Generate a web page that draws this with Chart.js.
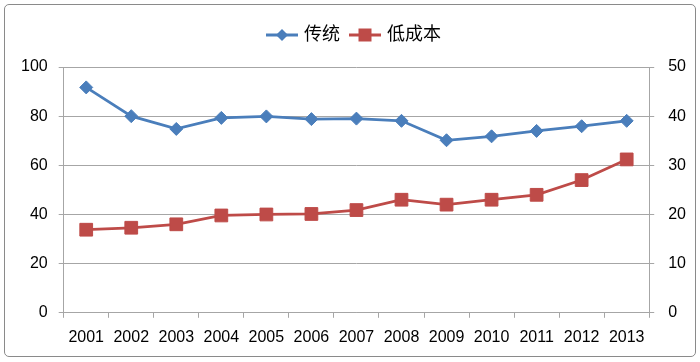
<!DOCTYPE html>
<html>
<head>
<meta charset="utf-8">
<script src="https://cdn.jsdelivr.net/npm/chart.js@4/dist/chart.umd.min.js"></script>
<style>
    html, body { margin: 0; padding: 0; background: #fff; }
    #wrap { position: relative; width: 700px; height: 362px; }
    #frame { position: absolute; left: 4px; top: 4px; width: 690px; height: 351px; border: 1.5px solid #8a8a8a; border-radius: 5px; pointer-events: none; }
    canvas { position: absolute; left: 0; top: 0; }
</style>
</head>
<body>
<div id="wrap">
    <canvas id="chart" width="700" height="362"></canvas>
    <div id="frame"></div>
</div>
<script>
// Data
const years = ['2001', '2002', '2003', '2004', '2005', '2006', '2007', '2008', '2009', '2010', '2011', '2012', '2013'];
const traditional = [91.7, 80, 74.8, 79.3, 79.9, 78.8, 79, 78.1, 70.2, 71.8, 74, 75.9, 78.1];   // left axis
const lowCost = [16.9, 17.3, 18, 19.8, 20, 20.1, 20.9, 23, 22, 23, 24, 27, 31.2];            // right axis
const leftTicks = [0, 20, 40, 60, 80, 100];
const rightTicks = [0, 10, 20, 30, 40, 50];

const BLUE = '#4a7ebb';
const RED = '#be4b48';
const GRID = '#a6a6a6';
const FONT = "'Liberation Sans', 'Noto Sans CJK SC', sans-serif";

// legend swatch: short line with the marker on it, like Excel
function legendSwatch(color, shape) {
    const c = document.createElement('canvas');
    c.width = 32; c.height = 16;
    const g = c.getContext('2d');
    g.strokeStyle = color;
    g.lineWidth = 3;
    g.beginPath(); g.moveTo(0, 8); g.lineTo(32, 8); g.stroke();
    g.fillStyle = color;
    g.beginPath();
    if (shape === 'diamond') {
        g.moveTo(16, 2); g.lineTo(22, 8); g.lineTo(16, 14); g.lineTo(10, 8);
    } else {
        g.rect(9.5, 1.5, 13, 13);
    }
    g.closePath(); g.fill();
    return c;
}
const swatches = [legendSwatch(BLUE, 'diamond'), legendSwatch(RED, 'square')];

// extra room between legend and plot
const legendGap = {
    id: 'legendGap',
    beforeInit(chart) {
        const fit = chart.legend.fit;
        chart.legend.fit = function () {
            fit.call(this);
            this.height += 13;
        };
    }
};

new Chart(document.getElementById('chart'), {
    type: 'line',
    data: {
        labels: years,
        datasets: [
            { label: '传统', data: traditional, yAxisID: 'y', borderColor: BLUE, backgroundColor: BLUE,
              borderWidth: 2.75, pointStyle: 'rectRot', pointRadius: 6.5, pointBorderWidth: 1, tension: 0 },
            { label: '低成本', data: lowCost, yAxisID: 'y1', borderColor: RED, backgroundColor: RED,
              borderWidth: 2.75, pointStyle: 'rect', pointRadius: 9, pointBorderWidth: 1, tension: 0 }
        ]
    },
    options: {
        responsive: false,
        animation: false,
        layout: { autoPadding: false, padding: { left: 10, right: 0, top: 14, bottom: 5 } },
        plugins: {
            tooltip: { enabled: false },
            legend: {
                position: 'top',
                labels: {
                    usePointStyle: true,
                    pointStyleWidth: 26,
                    font: { family: FONT, size: 18 },
                    color: '#000',
                    padding: 12,
                    generateLabels: (chart) => chart.data.datasets.map((ds, i) => ({
                        text: ds.label, pointStyle: swatches[i], datasetIndex: i,
                        fillStyle: ds.borderColor, strokeStyle: ds.borderColor, lineWidth: 0, fontColor: '#000'
                    }))
                }
            }
        },
        scales: {
            x: {
                offset: true,
                grid: { drawOnChartArea: false, drawTicks: true, tickLength: 5, color: GRID, offset: true },
                border: { color: GRID, width: 1 },
                ticks: { font: { family: FONT, size: 16 }, color: '#000', padding: 10, maxRotation: 0, autoSkip: false }
            },
            y: {
                position: 'left',
                min: 0, max: 100,
                afterBuildTicks: (axis) => { axis.ticks = leftTicks.map(v => ({ value: v })); },
                grid: { color: GRID, tickLength: 5 },
                border: { color: GRID, width: 1 },
                ticks: { font: { family: FONT, size: 16 }, color: '#000', padding: 11 }
            },
            y1: {
                position: 'right',
                min: 0, max: 50,
                afterBuildTicks: (axis) => { axis.ticks = rightTicks.map(v => ({ value: v })); },
                grid: { drawOnChartArea: false, color: GRID, tickLength: 5 },
                border: { color: GRID, width: 1 },
                ticks: { font: { family: FONT, size: 16 }, color: '#000', padding: 14 }
            }
        }
    },
    plugins: [legendGap]
});
</script>
</body>
</html>
